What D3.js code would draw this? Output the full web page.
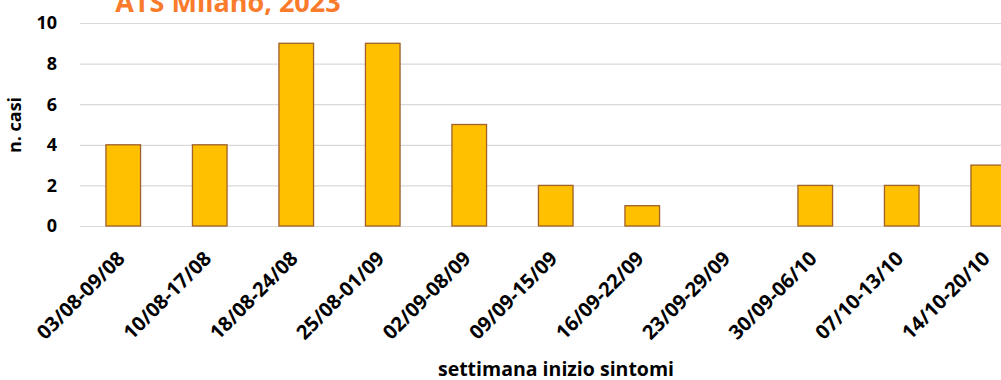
<!DOCTYPE html>
<html>
<head>
<meta charset="utf-8">
<script src="https://cdn.jsdelivr.net/npm/d3@7"></script>
<style>
  html, body { margin: 0; padding: 0; background: #fff; overflow: hidden; }
  svg { display: block; font-family: "Open Sans", "Noto Sans", sans-serif; }
</style>
</head>
<body>
<svg id="chart" width="1001" height="380"></svg>
<script>
// Weekly case counts by symptom-onset week
const weeks = ["03/08-09/08", "10/08-17/08", "18/08-24/08", "25/08-01/09", "02/09-08/09",
               "09/09-15/09", "16/09-22/09", "23/09-29/09", "30/09-06/10", "07/10-13/10", "14/10-20/10"];
const cases = [4, 4, 9, 9, 5, 2, 1, 0, 2, 2, 3];
const yTicks = [0, 2, 4, 6, 8, 10];
const titleText = "ATS Milano, 2023";
const yTitle = "n. casi";
const xTitle = "settimana inizio sintomi";

const svg = d3.select("#chart");
const plot = { left: 80, right: 1031.5, top: 23, bottom: 226 };

const x = d3.scaleBand()
  .domain(weeks)
  .range([plot.left, plot.right])
  .paddingInner(0.6)
  .paddingOuter(0.3);

const y = d3.scaleLinear()
  .domain([0, 10])
  .range([plot.bottom, plot.top]);

// Horizontal gridlines
svg.append("g")
  .selectAll("line")
  .data(yTicks)
  .join("line")
  .attr("x1", plot.left)
  .attr("x2", plot.right)
  .attr("y1", d => y(d) + 0.5)
  .attr("y2", d => y(d) + 0.5)
  .attr("stroke", "#d9d9d9")
  .attr("stroke-width", 1.2);

// Y tick labels
svg.append("g")
  .selectAll("text")
  .data(yTicks)
  .join("text")
  .attr("x", 57)
  .attr("y", d => y(d))
  .attr("dy", "0.36em")
  .attr("text-anchor", "end")
  .attr("font-size", 18)
  .attr("font-weight", 700)
  .attr("fill", "#000")
  .text(d => d);

// Bars
svg.append("g")
  .selectAll("rect")
  .data(weeks.map((w, i) => ({ w, v: cases[i] })))
  .join("rect")
  .attr("x", d => x(d.w))
  .attr("y", d => y(d.v))
  .attr("width", x.bandwidth())
  .attr("height", d => y(0) - y(d.v))
  .attr("fill", "#ffc000")
  .attr("stroke", "#a0602a")
  .attr("stroke-width", 1.3);

// Rotated category labels
svg.append("g")
  .selectAll("text")
  .data(weeks)
  .join("text")
  .attr("transform", d => `translate(${x(d) + x.bandwidth() / 2 - 7},${250}) rotate(-45)`)
  .attr("text-anchor", "end")
  .attr("dy", "0.7em")
  .attr("font-size", 20)
  .attr("font-weight", 700)
  .attr("fill", "#000")
  .text(d => d);

// Axis titles
svg.append("text")
  .attr("transform", "translate(21,125) rotate(-90)")
  .attr("text-anchor", "middle")
  .attr("font-size", 18)
  .attr("font-weight", 700)
  .attr("fill", "#000")
  .text(yTitle);

svg.append("text")
  .attr("x", 556)
  .attr("y", 376)
  .attr("text-anchor", "middle")
  .attr("font-size", 19.5)
  .attr("font-weight", 700)
  .attr("fill", "#000")
  .text(xTitle);

// Chart title (partly above the visible area)
svg.append("text")
  .attr("x", 228)
  .attr("y", 12)
  .attr("text-anchor", "middle")
  .attr("font-size", 27)
  .attr("font-weight", 700)
  .attr("fill", "#f97b2b")
  .text(titleText);
</script>
</body>
</html>
